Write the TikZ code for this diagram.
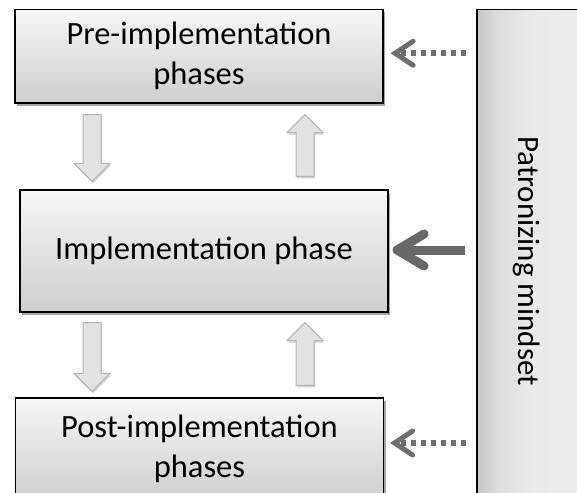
\documentclass[tikz,border=0pt]{standalone}
\usepackage{fontspec}
\setmainfont{Carlito}
\usetikzlibrary{calc,arrows.meta,shadows}

\definecolor{hintgrey}{HTML}{6E6E6E}
\definecolor{pushgrey}{HTML}{686868}
\definecolor{blockfill}{HTML}{E2E2E2}
\definecolor{blockline}{HTML}{B2B2B2}

\pgfdeclarehorizontalshading{mindsetshade}{100bp}{color(0bp)=(gray!46); color(25bp)=(gray!46);
  color(32bp)=(gray!28); color(45bp)=(gray!17); color(75bp)=(gray!13); color(100bp)=(gray!13)}

\tikzset{
  phasebox/.style={draw, line width=1.2pt, top color=gray!7, bottom color=gray!38,
    minimum width=368pt, align=center, font=\fontsize{32.5}{40}\selectfont,
    drop shadow={shadow xshift=2pt, shadow yshift=-3pt, opacity=.35, fill=black}},
  mindbar/.style={draw, line width=1.2pt, shading=mindsetshade},
  blockarrow/.style={draw=blockline, fill=blockfill, line width=1pt,
    drop shadow={shadow xshift=1pt, shadow yshift=-2pt, opacity=.18, fill=black},
    to path={let \p1=($(\tikztotarget)!18pt!(\tikztostart)$) in
      ($(\tikztostart)!9pt!90:(\tikztotarget)$) -- ($(\p1)!9pt!90:(\tikztotarget)$)
      -- ($(\p1)!18pt!90:(\tikztotarget)$) -- (\tikztotarget)
      -- ($(\p1)!18pt!-90:(\tikztotarget)$) -- ($(\p1)!9pt!-90:(\tikztotarget)$)
      -- ($(\tikztostart)!9pt!-90:(\tikztotarget)$) -- cycle}},
  hintarrow/.style={draw=hintgrey, line width=5.5pt, dash pattern=on 5pt off 5pt,
    -{Straight Barb[length=18pt,width=24pt,line width=5pt,line cap=round]}},
  pusharrow/.style={draw=pushgrey, line width=9pt,
    -{Straight Barb[length=27pt,width=32pt,line cap=round,line join=round]}}
}

\begin{document}
\begin{tikzpicture}[x=1pt,y=-1pt]
\useasboundingbox (0,0) rectangle (577,492);

%side bar
\node[mindbar, minimum width=130pt, minimum height=520pt] (mind) at (542,269.5) {};
\node[rotate=-90, font=\fontsize{31}{39}\selectfont] (mindtext) at (527,261) {Patronizing mindset};

%phase boxes
\node[phasebox, minimum height=93.5pt] (pre) at (199,56.25) {Pre-implementation\\phases};
\node[phasebox, minimum height=122pt] (impl) at (204,251) {Implementation phase};
\node[phasebox, minimum height=102pt] (post) at (199.5,449) {Post-implementation\\phases};

%arrow columns
\coordinate (dnx) at (92,0);
\coordinate (upx) at (305,0);

%block arrows
\draw[blockarrow] ($(pre.south -| dnx)+(0,11)$) to ($(impl.north -| dnx)+(0,-8)$);
\draw[blockarrow] ($(impl.north -| upx)+(0,-13)$) to ($(pre.south -| upx)+(0,11)$);
\draw[blockarrow] ($(impl.south -| dnx)+(0,10)$) to ($(post.north -| dnx)+(0,-6)$);
\draw[blockarrow] ($(post.north -| upx)+(0,-12)$) to ($(impl.south -| upx)+(0,10)$);

%mindset arrows
\draw[hintarrow] ($(pre.east -| mind.west)+(-10,-3)$) -- ($(pre.east)+(7,-3)$);
\draw[pusharrow] ($(impl.east -| mind.west)+(-11,-1)$) -- ($(impl.east)+(4,-1)$);
\draw[hintarrow] ($(post.east -| mind.west)+(-10,-6)$) -- ($(post.east)+(6,-6)$);

\end{tikzpicture}
\end{document}
